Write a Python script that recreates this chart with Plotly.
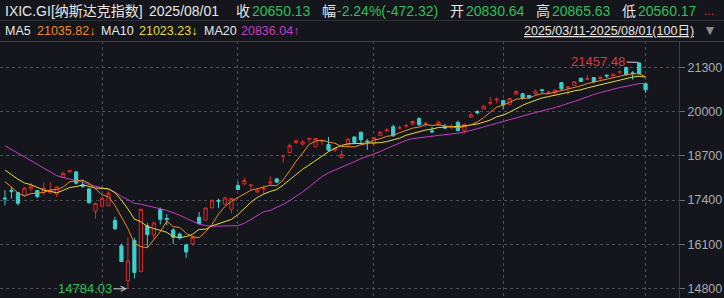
import plotly.graph_objects as go
import pandas as pd

# ---------------- data ----------------
dates = ["2025-03-11","2025-03-12","2025-03-13","2025-03-14","2025-03-17","2025-03-18","2025-03-19","2025-03-20","2025-03-21","2025-03-24",
         "2025-03-25","2025-03-26","2025-03-27","2025-03-28","2025-03-31","2025-04-01","2025-04-02","2025-04-03","2025-04-04","2025-04-07",
         "2025-04-08","2025-04-09","2025-04-10","2025-04-11","2025-04-14","2025-04-15","2025-04-16","2025-04-17","2025-04-21","2025-04-22",
         "2025-04-23","2025-04-24","2025-04-25","2025-04-28","2025-04-29","2025-04-30","2025-05-01","2025-05-02","2025-05-05","2025-05-06",
         "2025-05-07","2025-05-08","2025-05-09","2025-05-12","2025-05-13","2025-05-14","2025-05-15","2025-05-16","2025-05-19","2025-05-20",
         "2025-05-21","2025-05-22","2025-05-23","2025-05-27","2025-05-28","2025-05-29","2025-05-30","2025-06-02","2025-06-03","2025-06-04",
         "2025-06-05","2025-06-06","2025-06-09","2025-06-10","2025-06-11","2025-06-12","2025-06-13","2025-06-16","2025-06-17","2025-06-18",
         "2025-06-20","2025-06-23","2025-06-24","2025-06-25","2025-06-26","2025-06-27","2025-06-30","2025-07-01","2025-07-02","2025-07-03",
         "2025-07-07","2025-07-08","2025-07-09","2025-07-10","2025-07-11","2025-07-14","2025-07-15","2025-07-16","2025-07-17","2025-07-18",
         "2025-07-21","2025-07-22","2025-07-23","2025-07-24","2025-07-25","2025-07-28","2025-07-29","2025-07-30","2025-07-31","2025-08-01"]

opens = [17460,17690,17620,17530,17730,17680,17640,17610,17575,18070,
         18230,18230,17850,17730,17070,17225,17230,16800,16050,15020,
         16210,15300,16640,16370,17120,16860,16520,16400,16080,16110,
         16890,16810,17170,17390,17280,17130,17830,17880,17830,17640,
         17720,17900,18020,18690,18800,19090,19050,19200,18970,19135,
         19040,18870,18650,19020,19260,19400,19140,19060,19300,19440,
         19560,19520,19580,19640,19800,19640,19440,19610,19560,19530,
         19690,19440,19840,20010,20080,20250,20350,20330,20220,20520,
         20530,20480,20540,20650,20570,20560,20860,20710,20780,20990,
         20965,21010,20980,21080,21060,21170,21310,21150,21440,20830.64]

highs = [17690,17790,17640,17780,17910,17700,17920,17930,17810,18230,
         18290,18260,17990,17740,17330,17500,17660,16910,16120,16300,
         16290,17150,16720,16760,17180,16990,16570,16440,16090,16350,
         17050,17180,17420,17440,17500,17460,17940,18060,17880,17750,
         17840,18100,18060,18720,19060,19180,19170,19220,19220,19150,
         19260,18950,18870,19220,19270,19410,19200,19260,19440,19520,
         19620,19600,19650,19740,19840,19690,19560,19740,19650,19640,
         19740,19640,19980,20050,20190,20440,20430,20360,20400,20630,
         20560,20500,20650,20660,20600,20660,20870,20750,20900,21000,
         21080,21020,21040,21100,21110,21220,21320,21200,21457.48,20865.63]

lows = [17240,17440,17240,17500,17660,17460,17540,17595,17490,18060,
        18220,17860,17760,17290,16854,17180,17220,16530,15580,14784.03,
        15090,15270,16000,16250,16680,16660,16100,16230,15700,16050,
        16690,16790,17150,17160,17260,17010,17690,17830,17700,17600,
        17580,17840,17900,18500,18780,19060,19000,19090,18960,19020,
        18830,18810,18620,19000,19080,19040,18880,18990,19280,19400,
        19260,19480,19530,19600,19590,19560,19380,19600,19490,19500,
        19420,19350,19830,19920,20060,20200,20250,20080,20200,20510,
        20350,20380,20500,20550,20520,20490,20650,20500,20770,20880,
        20950,20840,20930,21000,21040,21120,21060,20950,21100,20560.17]

closes = [17436.10,17648.45,17303.01,17754.09,17808.66,17504.12,17750.79,17691.63,17784.05,18188.59,
          18271.86,17899.01,17804.03,17322.99,17299.29,17449.89,17601.05,16550.61,15587.79,15603.26,
          15267.91,17124.97,16387.31,16724.46,16831.48,16823.17,16307.16,16286.45,15870.90,16300.42,
          16708.05,17166.04,17382.94,17366.13,17461.32,17446.34,17710.74,17977.73,17844.24,17689.66,
          17738.16,17928.14,17928.92,18708.34,19010.08,19146.81,19112.32,19211.10,19215.46,19142.71,
          18872.64,18925.73,18737.21,19199.16,19100.94,19175.87,19113.77,19242.61,19398.96,19460.49,
          19298.45,19529.95,19591.24,19714.99,19615.88,19662.49,19406.83,19701.21,19521.09,19546.27,
          19447.41,19630.97,19912.53,19973.55,20167.91,20273.46,20369.73,20202.89,20393.13,20601.10,
          20412.52,20418.46,20611.34,20630.67,20585.53,20640.33,20677.80,20730.49,20885.65,20895.66,
          20974.17,20892.69,21020.02,21057.96,21108.32,21178.58,21098.29,21129.67,21122.45,20650.13]

# 19 closes before the first shown day (needed for the moving averages)
prior_closes = [19643.86,19649.95,19945.64,20026.77,20041.26,20056.25,19962.36,19524.01,19286.93,19026.39,
                19075.26,18544.42,18847.28,18350.19,18285.16,18552.73,18069.26,18196.22,17468.32]

y_ticks = [14800, 16100, 17400, 18700, 20000, 21300]
month_starts = ["2025-04-01", "2025-05-01", "2025-06-02", "2025-07-01", "2025-08-01"]

header_name = "IXIC.GI[纳斯达克指数]"
header_date = "2025/08/01"
header_close = "20650.13"
header_change = "-2.24%(-472.32)"
header_open = "20830.64"
header_high = "20865.63"
header_low = "20560.17"
ma5_text, ma10_text, ma20_text = "21035.82↓", "21023.23↓", "20836.04↑"
range_text = "2025/03/11-2025/08/01(100日)"
max_label, min_label = "21457.48", "14784.03"

# ---------------- derived ----------------
all_close = pd.Series(prior_closes + closes)
ma5 = all_close.rolling(5).mean().iloc[len(prior_closes):].tolist()
ma10 = all_close.rolling(10).mean().iloc[len(prior_closes):].tolist()
ma20 = all_close.rolling(20).mean().iloc[len(prior_closes):].tolist()

# ---------------- styling ----------------
BG = "#14161b"
RED = "#dc2a2a"
CYAN = "#3ccfcf"
GREEN = "#2fbf58"
ORANGE = "#f08a22"
YELLOW = "#e6dc3c"
MAGENTA = "#c43cc6"
GRID = "#4a4e57"
FONT = "Liberation Sans, Noto Sans CJK SC, sans-serif"

W, H = 724, 298
ML, MR, MT, MB = 0, 45, 41, 0
PW, PH = W - ML - MR, H - MT - MB

def px(xp):
    return (xp - ML) / PW

def py(yp):
    return (H - MB - yp) / PH

fig = go.Figure()

fig.add_trace(go.Candlestick(
    x=dates, open=opens, high=highs, low=lows, close=closes,
    increasing=dict(line=dict(color=RED, width=1), fillcolor=BG),
    decreasing=dict(line=dict(color=CYAN, width=1), fillcolor=CYAN),
    whiskerwidth=0, hoverinfo="skip",
))
for vals, col in [(ma20, MAGENTA), (ma10, YELLOW), (ma5, ORANGE)]:
    fig.add_trace(go.Scatter(x=dates, y=vals, mode="lines",
                             line=dict(color=col, width=1), hoverinfo="skip"))

fig.update_layout(
    width=W, height=H, margin=dict(l=ML, r=MR, t=MT, b=MB),
    paper_bgcolor=BG, plot_bgcolor=BG, showlegend=False,
    font=dict(family=FONT),
    xaxis=dict(type="category", range=[-0.77, 104.17], rangeslider=dict(visible=False),
               tickvals=month_starts, showticklabels=False, ticks="",
               showgrid=True, gridcolor=GRID, griddash="dot", gridwidth=1,
               zeroline=False, showline=False, fixedrange=True),
    yaxis=dict(side="right", range=[14514, 22087], tickvals=y_ticks,
               ticktext=[str(v) for v in y_ticks],
               tickfont=dict(color="#a9abb0", size=12.5, family=FONT),
               ticks="outside", ticklen=5, tickcolor="#6a6d74",
               showgrid=True, gridcolor=GRID, griddash="dot", gridwidth=1,
               zeroline=False, showline=True, linecolor="#3c3f47", linewidth=1,
               fixedrange=True),
)

# separator lines
fig.add_shape(type="line", xref="paper", yref="paper", x0=px(0), x1=px(W), y0=py(20.5), y1=py(20.5),
              line=dict(color="#2c2f36", width=1))
fig.add_shape(type="line", xref="paper", yref="paper", x0=px(0), x1=px(W), y0=py(41.5), y1=py(41.5),
              line=dict(color="#3c3f47", width=1))

def label(xp, yp, text, color, size=14, **kw):
    fig.add_annotation(x=px(xp), y=py(yp), xref="paper", yref="paper", text=text,
                       showarrow=False, xanchor="left", yanchor="middle",
                       font=dict(color=color, size=size, family=FONT, **kw))

WHITE = "#e6e6e6"
label(3, 11, header_name, WHITE)
label(147, 11, header_date, WHITE)
label(234, 11, "收", WHITE)
label(250, 11, header_close, GREEN)
label(320, 11, "幅", WHITE)
label(335, 11, header_change, GREEN)
label(448, 11, "开", WHITE)
label(464, 11, header_open, GREEN)
label(534, 11, "高", WHITE)
label(550, 11, header_high, GREEN)
label(620, 11, "低", WHITE)
label(636, 11, header_low, GREEN)
label(702, 11, "...", RED, size=12)

label(3, 31, "MA5", WHITE, size=12.5)
label(35, 31, ma5_text, ORANGE, size=12.5)
label(99, 31, "MA10", WHITE, size=12.5)
label(137, 31, ma10_text, YELLOW, size=12.5)
label(202, 31, "MA20", WHITE, size=12.5)
label(239, 31, ma20_text, MAGENTA, size=12.5)
label(522, 31, range_text, WHITE, size=12.5, lineposition="under")
label(701, 30, "▼", "#8a8c90", size=14)

# extreme value labels with arrows
imax = highs.index(max(highs))
imin = lows.index(min(lows))
fig.add_annotation(x=dates[imax], y=highs[imax], xref="x", yref="y", text=max_label,
                   showarrow=True, ax=-41, ay=-1, arrowhead=0, arrowwidth=1, arrowcolor="#d0d0d0",
                   standoff=1, font=dict(color="#e0343c", size=13, family=FONT))
fig.add_annotation(x=dates[imin], y=lows[imin], xref="x", yref="y", text=min_label,
                   showarrow=True, ax=-43, ay=0, arrowhead=5, arrowsize=1, arrowwidth=1, arrowcolor="#d0d0d0",
                   standoff=1, font=dict(color=GREEN, size=13, family=FONT))

fig.write_html("out.html")
